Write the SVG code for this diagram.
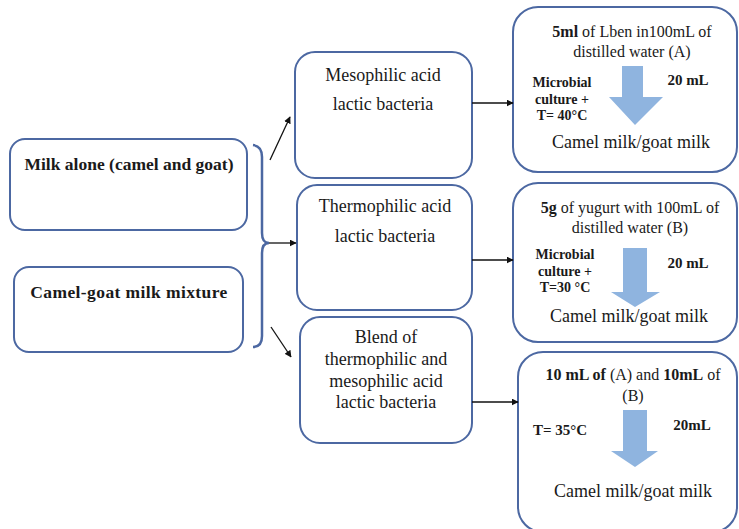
<svg xmlns="http://www.w3.org/2000/svg" width="739" height="529" viewBox="0 0 739 529">
<style>
.box{fill:#fff;stroke:#4c68a2;stroke-width:2}
.t{font-family:"Liberation Serif","Times New Roman",serif;fill:#1a1a1a;text-anchor:middle}
.r{font-size:18px}
.s{font-size:16px}
.b{font-weight:bold}
.conn{stroke:#111;stroke-width:1.3;fill:none}
.blue{fill:#8fb4df}
</style>
<defs>
<marker id="ah" viewBox="0 0 10 10" refX="9" refY="5" markerWidth="7" markerHeight="7" orient="auto" markerUnits="userSpaceOnUse">
<path d="M0,0 L10,5 L0,10 z" fill="#111"/>
</marker>
</defs>
<rect width="739" height="529" fill="#fff"/>

<g id="milk-alone">
<rect class="box" x="10" y="139" width="237" height="91" rx="15"/>
<text class="t b" font-size="17.5" x="129" y="170">Milk alone (camel and goat)</text>
</g>
<g id="milk-mixture">
<rect class="box" x="14" y="267" width="229" height="85" rx="15"/>
<text class="t b" font-size="17.5" x="129" y="298" letter-spacing="0.4">Camel-goat milk mixture</text>
</g>

<g id="mesophilic">
<rect class="box" x="295" y="52" width="177" height="126" rx="20"/>
<text class="t r" x="383" y="81">Mesophilic acid</text>
<text class="t r" x="383" y="110">lactic bacteria</text>
</g>
<g id="thermophilic">
<rect class="box" x="297" y="185" width="175" height="125" rx="20"/>
<text class="t r" x="385" y="212">Thermophilic acid</text>
<text class="t r" x="385" y="242">lactic bacteria</text>
</g>
<g id="blend">
<rect class="box" x="300" y="317" width="172" height="126" rx="20"/>
<text class="t r" x="386" y="343">Blend of</text>
<text class="t r" x="386" y="365">thermophilic and</text>
<text class="t r" x="386" y="387">mesophilic acid</text>
<text class="t r" x="386" y="408">lactic bacteria</text>
</g>

<g id="culture-a">
<rect class="box" x="513" y="7" width="224" height="165" rx="25"/>
<text class="t s" x="632" y="37"><tspan font-weight="bold">5ml</tspan> of Lben in100mL of</text>
<text class="t s" x="632" y="57">distilled water (A)</text>
<path class="blue" d="M622,66 H643 V97 H663 L635,125 L609,97 H622 Z"/>
<text class="t b" font-size="14" x="562" y="87">Microbial</text>
<text class="t b" font-size="14" x="562" y="104">culture +</text>
<text class="t b" font-size="14" x="562" y="120">T= 40°C</text>
<text class="t b" font-size="15" x="688" y="85">20 mL</text>
<text class="t r" x="631" y="148">Camel milk/goat milk</text>
</g>

<g id="culture-b">
<rect class="box" x="513" y="183" width="224" height="159" rx="25"/>
<text class="t s" x="630" y="213"><tspan font-weight="bold">5g</tspan> of yugurt with 100mL of</text>
<text class="t s" x="630" y="233">distilled water (B)</text>
<path class="blue" d="M623,248 H647 V292 H660 L635,307 L611,292 H623 Z"/>
<text class="t b" font-size="14" x="565" y="259">Microbial</text>
<text class="t b" font-size="14" x="565" y="276">culture +</text>
<text class="t b" font-size="14" x="565" y="292">T=30 °C</text>
<text class="t b" font-size="15" x="688" y="268">20 mL</text>
<text class="t r" x="629" y="322">Camel milk/goat milk</text>
</g>

<g id="culture-ab">
<rect class="box" x="518" y="352" width="219" height="180" rx="25"/>
<text class="t s" x="633" y="380"><tspan font-weight="bold">10 mL of</tspan> (A) and <tspan font-weight="bold">10mL</tspan> of</text>
<text class="t s" x="633" y="401">(B)</text>
<path class="blue" d="M623,410 H647 V451 H658 L635,467 L611,451 H623 Z"/>
<text class="t b" font-size="15" x="560" y="435">T= 35°C</text>
<text class="t b" font-size="15" x="692" y="430">20mL</text>
<text class="t r" x="633" y="497">Camel milk/goat milk</text>
</g>

<g id="connectors">
<path d="M253,145 Q262,146 262,157 L262,233 Q262,243 269,243 Q262,243 262,253 L262,336 Q262,347 253,347" fill="none" stroke="#4c68a2" stroke-width="2.5"/>
<line class="conn" x1="270" y1="160" x2="290" y2="117" marker-end="url(#ah)"/>
<line class="conn" x1="269" y1="243" x2="296" y2="243" marker-end="url(#ah)"/>
<line class="conn" x1="271" y1="327" x2="291" y2="357" marker-end="url(#ah)"/>
<line class="conn" x1="472" y1="103" x2="513" y2="103" marker-end="url(#ah)"/>
<line class="conn" x1="472" y1="260" x2="513" y2="260" marker-end="url(#ah)"/>
<line class="conn" x1="472" y1="402" x2="518" y2="402" marker-end="url(#ah)"/>
</g>
</svg>
